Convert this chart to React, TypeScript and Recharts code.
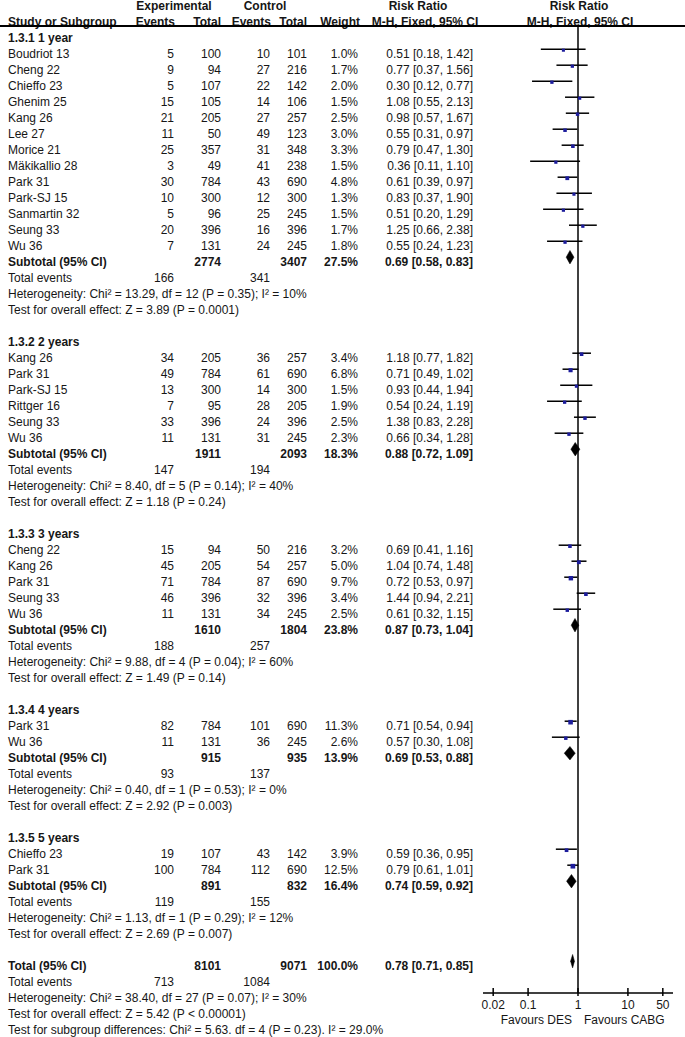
import React from "react"
import { ScatterChart, Scatter, XAxis, YAxis, ErrorBar, ReferenceLine, Label } from "recharts"

interface Study {
  study: string
  expEvents: number
  expTotal: number
  ctlEvents: number
  ctlTotal: number
  weight: number
  rr: number
  lo: number
  hi: number
}

interface Pooled {
  expTotal: number
  ctlTotal: number
  weight: number
  rr: number
  lo: number
  hi: number
}

const year1: Study[] = [
  { study: "Boudriot 13", expEvents: 5, expTotal: 100, ctlEvents: 10, ctlTotal: 101, weight: 1.0, rr: 0.51, lo: 0.18, hi: 1.42 },
  { study: "Cheng 22", expEvents: 9, expTotal: 94, ctlEvents: 27, ctlTotal: 216, weight: 1.7, rr: 0.77, lo: 0.37, hi: 1.56 },
  { study: "Chieffo 23", expEvents: 5, expTotal: 107, ctlEvents: 22, ctlTotal: 142, weight: 2.0, rr: 0.30, lo: 0.12, hi: 0.77 },
  { study: "Ghenim 25", expEvents: 15, expTotal: 105, ctlEvents: 14, ctlTotal: 106, weight: 1.5, rr: 1.08, lo: 0.55, hi: 2.13 },
  { study: "Kang 26", expEvents: 21, expTotal: 205, ctlEvents: 27, ctlTotal: 257, weight: 2.5, rr: 0.98, lo: 0.57, hi: 1.67 },
  { study: "Lee 27", expEvents: 11, expTotal: 50, ctlEvents: 49, ctlTotal: 123, weight: 3.0, rr: 0.55, lo: 0.31, hi: 0.97 },
  { study: "Morice 21", expEvents: 25, expTotal: 357, ctlEvents: 31, ctlTotal: 348, weight: 3.3, rr: 0.79, lo: 0.47, hi: 1.30 },
  { study: "Mäkikallio 28", expEvents: 3, expTotal: 49, ctlEvents: 41, ctlTotal: 238, weight: 1.5, rr: 0.36, lo: 0.11, hi: 1.10 },
  { study: "Park 31", expEvents: 30, expTotal: 784, ctlEvents: 43, ctlTotal: 690, weight: 4.8, rr: 0.61, lo: 0.39, hi: 0.97 },
  { study: "Park-SJ 15", expEvents: 10, expTotal: 300, ctlEvents: 12, ctlTotal: 300, weight: 1.3, rr: 0.83, lo: 0.37, hi: 1.90 },
  { study: "Sanmartin 32", expEvents: 5, expTotal: 96, ctlEvents: 25, ctlTotal: 245, weight: 1.5, rr: 0.51, lo: 0.20, hi: 1.29 },
  { study: "Seung 33", expEvents: 20, expTotal: 396, ctlEvents: 16, ctlTotal: 396, weight: 1.7, rr: 1.25, lo: 0.66, hi: 2.38 },
  { study: "Wu 36", expEvents: 7, expTotal: 131, ctlEvents: 24, ctlTotal: 245, weight: 1.8, rr: 0.55, lo: 0.24, hi: 1.23 },
]

const year2: Study[] = [
  { study: "Kang 26", expEvents: 34, expTotal: 205, ctlEvents: 36, ctlTotal: 257, weight: 3.4, rr: 1.18, lo: 0.77, hi: 1.82 },
  { study: "Park 31", expEvents: 49, expTotal: 784, ctlEvents: 61, ctlTotal: 690, weight: 6.8, rr: 0.71, lo: 0.49, hi: 1.02 },
  { study: "Park-SJ 15", expEvents: 13, expTotal: 300, ctlEvents: 14, ctlTotal: 300, weight: 1.5, rr: 0.93, lo: 0.44, hi: 1.94 },
  { study: "Rittger 16", expEvents: 7, expTotal: 95, ctlEvents: 28, ctlTotal: 205, weight: 1.9, rr: 0.54, lo: 0.24, hi: 1.19 },
  { study: "Seung 33", expEvents: 33, expTotal: 396, ctlEvents: 24, ctlTotal: 396, weight: 2.5, rr: 1.38, lo: 0.83, hi: 2.28 },
  { study: "Wu 36", expEvents: 11, expTotal: 131, ctlEvents: 31, ctlTotal: 245, weight: 2.3, rr: 0.66, lo: 0.34, hi: 1.28 },
]

const year3: Study[] = [
  { study: "Cheng 22", expEvents: 15, expTotal: 94, ctlEvents: 50, ctlTotal: 216, weight: 3.2, rr: 0.69, lo: 0.41, hi: 1.16 },
  { study: "Kang 26", expEvents: 45, expTotal: 205, ctlEvents: 54, ctlTotal: 257, weight: 5.0, rr: 1.04, lo: 0.74, hi: 1.48 },
  { study: "Park 31", expEvents: 71, expTotal: 784, ctlEvents: 87, ctlTotal: 690, weight: 9.7, rr: 0.72, lo: 0.53, hi: 0.97 },
  { study: "Seung 33", expEvents: 46, expTotal: 396, ctlEvents: 32, ctlTotal: 396, weight: 3.4, rr: 1.44, lo: 0.94, hi: 2.21 },
  { study: "Wu 36", expEvents: 11, expTotal: 131, ctlEvents: 34, ctlTotal: 245, weight: 2.5, rr: 0.61, lo: 0.32, hi: 1.15 },
]

const year4: Study[] = [
  { study: "Park 31", expEvents: 82, expTotal: 784, ctlEvents: 101, ctlTotal: 690, weight: 11.3, rr: 0.71, lo: 0.54, hi: 0.94 },
  { study: "Wu 36", expEvents: 11, expTotal: 131, ctlEvents: 36, ctlTotal: 245, weight: 2.6, rr: 0.57, lo: 0.30, hi: 1.08 },
]

const year5: Study[] = [
  { study: "Chieffo 23", expEvents: 19, expTotal: 107, ctlEvents: 43, ctlTotal: 142, weight: 3.9, rr: 0.59, lo: 0.36, hi: 0.95 },
  { study: "Park 31", expEvents: 100, expTotal: 784, ctlEvents: 112, ctlTotal: 690, weight: 12.5, rr: 0.79, lo: 0.61, hi: 1.01 },
]

const subgroupLabels = ["1.3.1 1 year", "1.3.2 2 years", "1.3.3 3 years", "1.3.4 4 years", "1.3.5 5 years"]
const subgroupStudies = [year1, year2, year3, year4, year5]

const subtotals: Pooled[] = [
  { expTotal: 2774, ctlTotal: 3407, weight: 27.5, rr: 0.69, lo: 0.58, hi: 0.83 },
  { expTotal: 1911, ctlTotal: 2093, weight: 18.3, rr: 0.88, lo: 0.72, hi: 1.09 },
  { expTotal: 1610, ctlTotal: 1804, weight: 23.8, rr: 0.87, lo: 0.73, hi: 1.04 },
  { expTotal: 915, ctlTotal: 935, weight: 13.9, rr: 0.69, lo: 0.53, hi: 0.88 },
  { expTotal: 891, ctlTotal: 832, weight: 16.4, rr: 0.74, lo: 0.59, hi: 0.92 },
]

const subgroupEvents = [
  [166, 341],
  [147, 194],
  [188, 257],
  [93, 137],
  [119, 155],
]

const subgroupHeterogeneity = [
  "Heterogeneity: Chi² = 13.29, df = 12 (P = 0.35); I² = 10%",
  "Heterogeneity: Chi² = 8.40, df = 5 (P = 0.14); I² = 40%",
  "Heterogeneity: Chi² = 9.88, df = 4 (P = 0.04); I² = 60%",
  "Heterogeneity: Chi² = 0.40, df = 1 (P = 0.53); I² = 0%",
  "Heterogeneity: Chi² = 1.13, df = 1 (P = 0.29); I² = 12%",
]

const subgroupEffect = [
  "Test for overall effect: Z = 3.89 (P = 0.0001)",
  "Test for overall effect: Z = 1.18 (P = 0.24)",
  "Test for overall effect: Z = 1.49 (P = 0.14)",
  "Test for overall effect: Z = 2.92 (P = 0.003)",
  "Test for overall effect: Z = 2.69 (P = 0.007)",
]

const overall: Pooled = { expTotal: 8101, ctlTotal: 9071, weight: 100.0, rr: 0.78, lo: 0.71, hi: 0.85 }
const overallEvents = [713, 1084]
const overallNotes = [
  "Heterogeneity: Chi² = 38.40, df = 27 (P = 0.07); I² = 30%",
  "Test for overall effect: Z = 5.42 (P < 0.00001)",
  "Test for subgroup differences: Chi² = 5.63. df = 4 (P = 0.23). I² = 29.0%",
]

const axisTicks = [0.02, 0.1, 1, 10, 50]
const xDomain = [0.0125, 80]

// layout
const W = 685
const H = 1037
const FONT = "'Liberation Sans', Arial, sans-serif"
const COL = { label: 8, expEv: 174, expN: 221, ctlEv: 270, ctlN: 307, weight: 358, rr: 473 }
const MARK_SHIFT = 0.3
const DIAMOND_HALF = 0.42

type Cell = { text: string; x: number; anchor: "start" | "middle" | "end"; bold?: boolean }
type TextRow = { x: number; y: number; cells: Cell[]; rule?: boolean }

const fmtRR = (p: { rr: number; lo: number; hi: number }) =>
  `${p.rr.toFixed(2)} [${p.lo.toFixed(2)}, ${p.hi.toFixed(2)}]`

const pooledCells = (label: string, p: Pooled): Cell[] => [
  { text: label, x: COL.label, anchor: "start", bold: true },
  { text: String(p.expTotal), x: COL.expN, anchor: "end", bold: true },
  { text: String(p.ctlTotal), x: COL.ctlN, anchor: "end", bold: true },
  { text: `${p.weight.toFixed(1)}%`, x: COL.weight, anchor: "end", bold: true },
  { text: fmtRR(p), x: COL.rr, anchor: "end", bold: true },
]

const eventCells = (ev: number[]): Cell[] => [
  { text: "Total events", x: COL.label, anchor: "start" },
  { text: String(ev[0]), x: COL.expEv, anchor: "end" },
  { text: String(ev[1]), x: COL.ctlEv, anchor: "end" },
]

const diamondOf = (p: Pooled, row: number) => [
  { x: p.lo, y: row - MARK_SHIFT },
  { x: p.rr, y: row - MARK_SHIFT - DIAMOND_HALF },
  { x: p.hi, y: row - MARK_SHIFT },
  { x: p.rr, y: row - MARK_SHIFT + DIAMOND_HALF },
]

const textRows: TextRow[] = [
  {
    x: 1,
    y: -2,
    cells: [
      { text: "Experimental", x: 174, anchor: "middle", bold: true },
      { text: "Control", x: 265, anchor: "middle", bold: true },
      { text: "Risk Ratio", x: 418, anchor: "middle", bold: true },
      { text: "Risk Ratio", x: 579, anchor: "middle", bold: true },
    ],
  },
  {
    x: 1,
    y: -1,
    rule: true,
    cells: [
      { text: "Study or Subgroup", x: COL.label, anchor: "start", bold: true },
      { text: "Events", x: 175, anchor: "end", bold: true },
      { text: "Total", x: COL.expN, anchor: "end", bold: true },
      { text: "Events", x: 271, anchor: "end", bold: true },
      { text: "Total", x: COL.ctlN, anchor: "end", bold: true },
      { text: "Weight", x: 360, anchor: "end", bold: true },
      { text: "M-H, Fixed, 95% CI", x: 425, anchor: "middle", bold: true },
      { text: "M-H, Fixed, 95% CI", x: 580, anchor: "middle", bold: true },
    ],
  },
]
const studyPoints: { x: number; y: number; err: number[]; weight: number }[] = []
const diamonds: { x: number; y: number }[][] = []

let row = 0
subgroupLabels.forEach((label, g) => {
  textRows.push({ x: 1, y: row++, cells: [{ text: label, x: COL.label, anchor: "start", bold: true }] })
  subgroupStudies[g].forEach((s) => {
    textRows.push({
      x: 1,
      y: row,
      cells: [
        { text: s.study, x: COL.label, anchor: "start" },
        { text: String(s.expEvents), x: COL.expEv, anchor: "end" },
        { text: String(s.expTotal), x: COL.expN, anchor: "end" },
        { text: String(s.ctlEvents), x: COL.ctlEv, anchor: "end" },
        { text: String(s.ctlTotal), x: COL.ctlN, anchor: "end" },
        { text: `${s.weight.toFixed(1)}%`, x: COL.weight, anchor: "end" },
        { text: fmtRR(s), x: COL.rr, anchor: "end" },
      ],
    })
    studyPoints.push({ x: s.rr, y: row - MARK_SHIFT, err: [s.rr - s.lo, s.hi - s.rr], weight: s.weight })
    row++
  })
  textRows.push({ x: 1, y: row, cells: pooledCells("Subtotal (95% CI)", subtotals[g]) })
  diamonds.push(diamondOf(subtotals[g], row))
  row++
  textRows.push({ x: 1, y: row++, cells: eventCells(subgroupEvents[g]) })
  textRows.push({ x: 1, y: row++, cells: [{ text: subgroupHeterogeneity[g], x: COL.label, anchor: "start" }] })
  textRows.push({ x: 1, y: row++, cells: [{ text: subgroupEffect[g], x: COL.label, anchor: "start" }] })
  row++
})
textRows.push({ x: 1, y: row, cells: pooledCells("Total (95% CI)", overall) })
diamonds.push(diamondOf(overall, row))
row++
textRows.push({ x: 1, y: row++, cells: eventCells(overallEvents) })
overallNotes.forEach((note) => {
  textRows.push({ x: 1, y: row++, cells: [{ text: note, x: COL.label, anchor: "start" }] })
})

const renderRow = (props: any) => {
  const { cy, payload } = props
  return (
    <g>
      {payload.cells.map((c: Cell, i: number) => (
        <text
          key={i}
          x={c.x}
          y={cy}
          textAnchor={c.anchor}
          dominantBaseline="central"
          fontFamily={FONT}
          fontSize={12}
          fontWeight={c.bold ? "bold" : "normal"}
          fill="#161616"
        >
          {c.text}
        </text>
      ))}
      {payload.rule && <line x1={0} x2={W} y1={cy + 4} y2={cy + 4} stroke="#000" strokeWidth={2} />}
    </g>
  )
}

const renderSquare = (props: any) => {
  const { cx, cy, payload } = props
  const s = 2.4 + Math.sqrt(payload.weight) * 0.65
  return <rect x={cx - s / 2} y={cy + 1 - s / 2} width={s} height={s} fill="#1c1c9c" />
}

const renderDiamond = (props: any) => (
  <polygon
    points={props.points.map((p: any) => `${p.x},${p.y}`).join(" ")}
    fill="#000"
    stroke="#000"
    strokeWidth={0.5}
  />
)

const renderTick = (props: any) => {
  const { x, y, payload } = props
  return (
    <g>
      <line x1={x} x2={x} y1={y - 5} y2={y + 3} stroke="#000" strokeWidth={1.5} />
      <text x={x} y={y + 12} textAnchor="middle" dominantBaseline="central" fontFamily={FONT} fontSize={12} fill="#161616">
        {payload.value}
      </text>
    </g>
  )
}

const renderFavours = (props: any) => {
  const { viewBox } = props
  const mid = viewBox.x + viewBox.width / 2
  const y = viewBox.y + 27
  return (
    <g fontFamily={FONT} fontSize={12} fill="#161616">
      <text x={mid - 6} y={y} textAnchor="end" dominantBaseline="central">Favours DES</text>
      <text x={mid + 6} y={y} textAnchor="start" dominantBaseline="central">Favours CABG</text>
    </g>
  )
}

const margin = { top: 0, right: 12, bottom: 0, left: 483 }

export default function App() {
  return (
    <div style={{ position: "absolute", left: 0, top: 0, width: W, height: H, background: "#fff" }}>
      <div style={{ position: "absolute", left: 0, top: 0 }}>
        <ScatterChart width={W} height={H} margin={margin}>
          <XAxis type="number" dataKey="x" scale="log" domain={xDomain} hide />
          <YAxis type="number" dataKey="y" domain={[-2.375, 62.4375]} reversed hide />
          <ReferenceLine
            segment={[{ x: 1, y: -0.75 }, { x: 1, y: 59.6875 }]}
            stroke="#000"
            strokeWidth={1.5}
          />
          <Scatter data={textRows} shape={renderRow} isAnimationActive={false} />
          <Scatter data={studyPoints} shape={renderSquare} isAnimationActive={false}>
            <ErrorBar dataKey="err" direction="x" width={0} stroke="#000" strokeWidth={1.5} isAnimationActive={false} />
          </Scatter>
          {diamonds.map((d, i) => (
            <Scatter key={i} data={d} line={renderDiamond} shape={() => <g />} isAnimationActive={false} />
          ))}
        </ScatterChart>
      </div>
      <div style={{ position: "absolute", left: 0, top: 0 }}>
        <ScatterChart width={W} height={H} margin={margin}>
          <XAxis
            type="number"
            dataKey="x"
            scale="log"
            domain={xDomain}
            ticks={axisTicks}
            interval={0}
            height={44}
            tickSize={0}
            tickMargin={0}
            tickLine={false}
            tick={renderTick}
            axisLine={{ stroke: "#000", strokeWidth: 1.5 }}
          >
            <Label content={renderFavours} />
          </XAxis>
          <YAxis type="number" dataKey="y" domain={[0, 1]} hide />
          <Scatter data={axisTicks.map((t) => ({ x: t, y: 0 }))} shape={() => <g />} isAnimationActive={false} />
        </ScatterChart>
      </div>
    </div>
  )
}
